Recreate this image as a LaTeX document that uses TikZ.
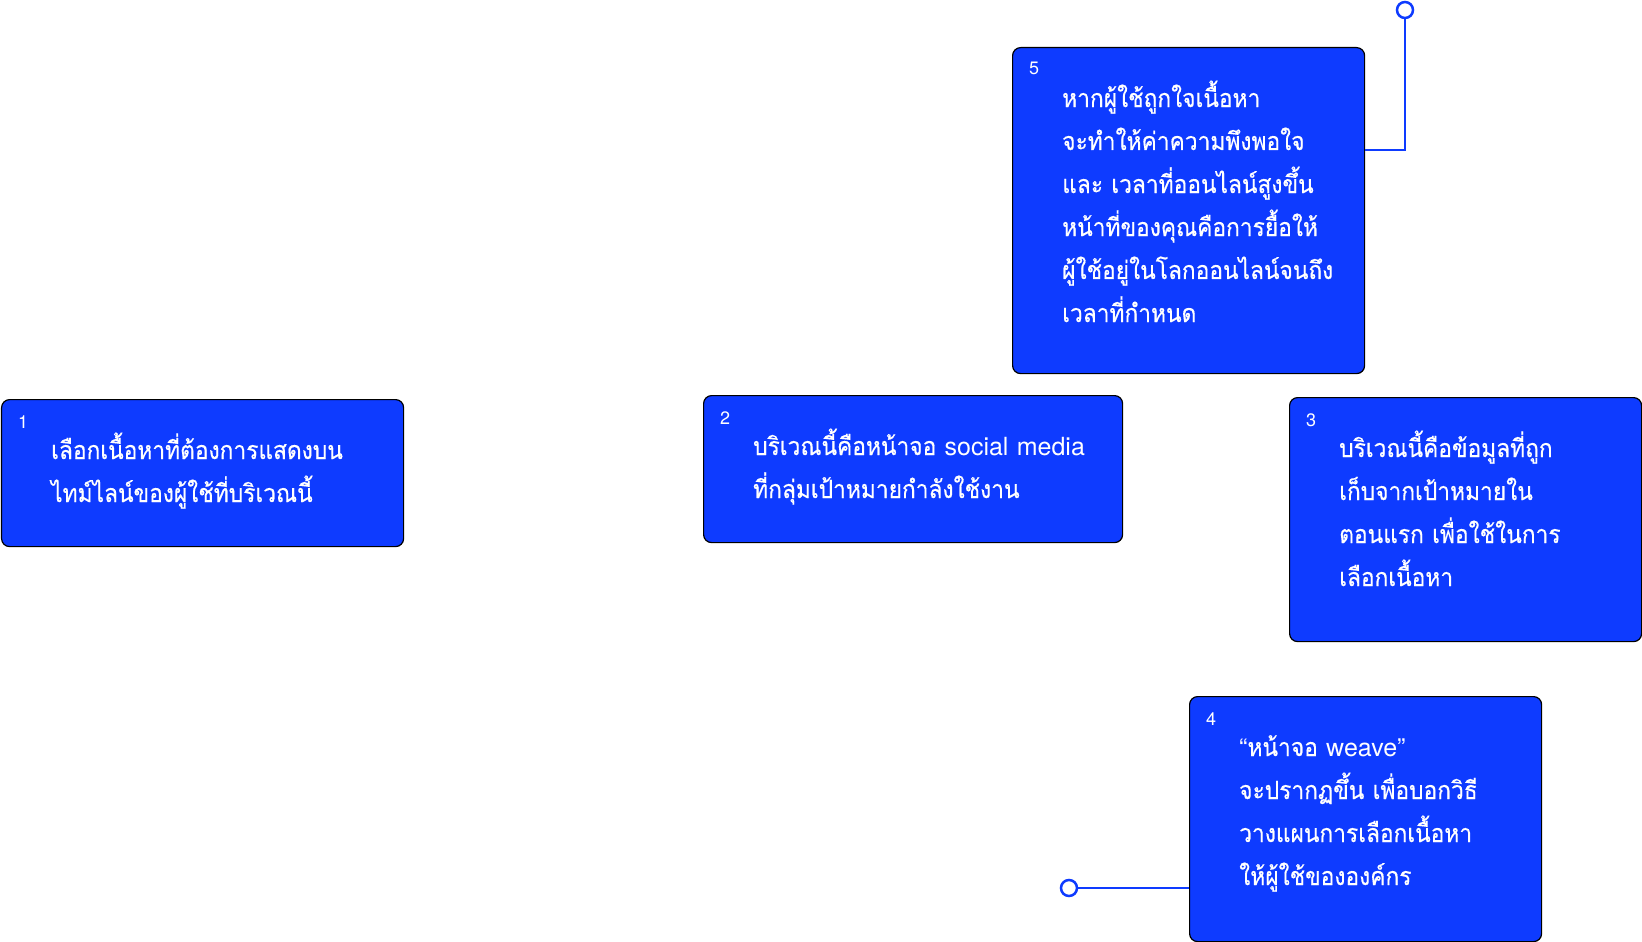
\documentclass[tikz,border=0pt]{standalone}
\usepackage{fontspec}
\setmainfont{TeX Gyre Heros}
\newfontfamily\thai[Script=Thai,FakeStretch=0.91,FakeBold=0.4]{Loma}
\newfontfamily\heros{TeX Gyre Heros}
\definecolor{cardblue}{HTML}{0E3BFF}

\begin{document}
\begin{tikzpicture}[x=1pt,y=-1pt,
  card/.style={draw=black,line width=1.2pt,fill=cardblue,rounded corners=8pt,
    inner sep=0pt,anchor=north west},
  num/.style={anchor=base west,inner sep=0pt,text=white,
    font=\heros\fontsize{18}{18}\selectfont},
  body/.style={anchor=base west,inner sep=0pt,text=white,align=left,
    text width=380pt,font=\thai\fontsize{25}{43}\selectfont},
  wire/.style={draw=cardblue,line width=2.5pt},
  pin/.style={circle,draw=cardblue,line width=2.5pt,fill=white,
    minimum size=16pt,inner sep=0pt}]
  \useasboundingbox (0,0) rectangle (1642,942);
  \node[card,minimum width=402pt,minimum height=147pt] (b1) at (1,399) {};
  \node[card,minimum width=419pt,minimum height=147pt] (b2) at (703,395) {};
  \node[card,minimum width=352pt,minimum height=244pt] (b3) at (1289,397) {};
  \node[card,minimum width=352pt,minimum height=245pt] (b4) at (1189,696) {};
  \node[card,minimum width=352pt,minimum height=326pt] (b5) at (1012,47) {};
  \node[num] (n1) at ([shift={(17,29)}]b1.north west) {1};
  \node[num] (n2) at ([shift={(17,29)}]b2.north west) {2};
  \node[num] (n3) at ([shift={(17,29)}]b3.north west) {3};
  \node[num] (n4) at ([shift={(17,29)}]b4.north west) {4};
  \node[num] (n5) at ([shift={(17,28)}]b5.north west) {5};
  \node[body] (t1) at ([shift={(50,60)}]b1.north west)
    {เลือกเนื้อหาที่ต้องการแสดงบน\\ไทม์ไลน์ของผู้ใช้ที่บริเวณนี้};
  \node[body] (t2) at ([shift={(50,60)}]b2.north west)
    {บริเวณนี้คือหน้าจอ {\heros social media}\\ที่กลุ่มเป้าหมายกำลังใช้งาน};
  \node[body] (t3) at ([shift={(50,60)}]b3.north west)
    {บริเวณนี้คือข้อมูลที่ถูก\\เก็บจากเป้าหมายใน\\ตอนแรก เพื่อใช้ในการ\\เลือกเนื้อหา};
  \node[body] (t4) at ([shift={(50,60)}]b4.north west)
    {{\heros “}หน้าจอ {\heros weave”}\\จะปรากฏขึ้น เพื่อบอกวิธี\\วางแผนการเลือกเนื้อหา\\ให้ผู้ใช้ขององค์กร};
  \node[body] (t5) at ([shift={(50,60)}]b5.north west)
    {หากผู้ใช้ถูกใจเนื้อหา\\จะทำให้ค่าความพึงพอใจ\\และ เวลาที่ออนไลน์สูงขึ้น\\หน้าที่ของคุณคือการยื้อให้\\ผู้ใช้อยู่ในโลกออนไลน์จนถึง\\เวลาที่กำหนด};
  \node[pin] (p5) at (1405,10) {};
  \node[pin] (p4) at (1069,888) {};
  \coordinate (e5) at (0,150);
  \draw[wire] (b5.east |- e5) -| (p5.south);
  \draw[wire] (b4.west |- p4) -- (p4.east);
\end{tikzpicture}
\end{document}
